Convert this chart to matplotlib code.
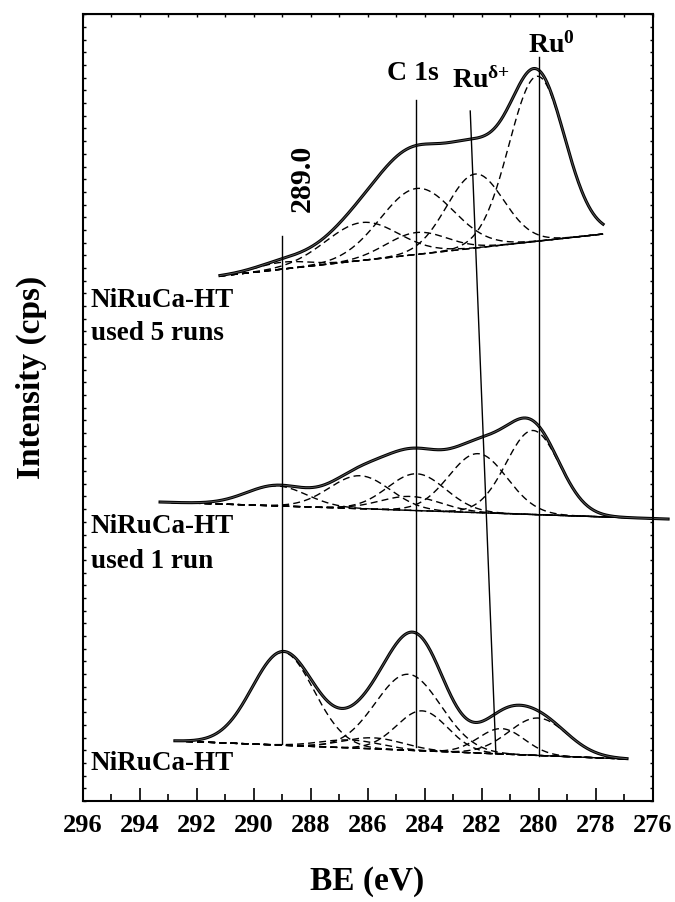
import matplotlib
matplotlib.use("Agg")
import matplotlib.pyplot as plt
import numpy as np
from matplotlib.ticker import MultipleLocator

plt.rcParams["font.family"] = ["Liberation Serif", "DejaVu Serif"]
plt.rcParams["font.weight"] = "bold"
plt.rcParams["mathtext.fontset"] = "custom"
plt.rcParams["mathtext.rm"] = "Liberation Serif:bold"
plt.rcParams["mathtext.bf"] = "Liberation Serif:bold"
plt.rcParams["mathtext.it"] = "Liberation Serif:bold:italic"

# fitted XPS components (BE in eV, intensity in arb. units)
# fresh NiRuCa-HT
bot_range = [292.76, 276.9]
bot_base = [4.73, 3.31]
bot_centers = [288.97, 286.6, 285.8, 284.58, 284.09, 281.3, 280.02]
bot_heights = [7.33, 0.63, 0.87, 5.99, 3.15, 2.0, 2.95]
bot_fwhm = [2.55, 2.5, 2.5, 2.7, 2.1, 1.9, 2.4]

# used 1 run
mid_range = [293.28, 275.46]
mid_base = [23.56, 22.22]
mid_centers = [289.2, 286.27, 284.5, 284.28, 282.13, 280.2]
mid_heights = [1.58, 2.6, 1.1, 2.9, 4.65, 6.62]
mid_fwhm = [2.5, 2.5, 2.5, 2.4, 2.4, 2.2]

# used 5 runs
top_range = [291.18, 277.74]
top_base = [41.37, 44.68]
top_centers = [289.0, 286.2, 284.3, 284.28, 282.23, 280.06]
top_heights = [0.55, 2.99, 1.73, 5.2, 5.83, 13.0]
top_fwhm = [2.2, 3.0, 2.5, 3.0, 2.35, 2.3]

# guide lines: BE at top/bottom end and their intensity extent
line_be_top = [289.0, 284.3, 282.4, 280.0]
line_be_bot = [289.0, 284.3, 281.5, 280.0]
line_y_top = [44.52, 55.24, 54.37, 58.63]
line_y_bot = [4.49, 4.26, 3.70, 3.55]

be_ticks = [296, 294, 292, 290, 288, 286, 284, 282, 280, 278, 276]

W, H = 675, 903
fig = plt.figure(figsize=(W / 100, H / 100), dpi=100)
ax = fig.add_axes([82.5 / W, 1 - 802 / H, 570.2 / W, 787 / H])


def px(x, y):
    return x / W, 1 - y / H


def draw_spectrum(rng, base, centers, heights, fwhm):
    x = np.linspace(rng[0], rng[1], 500)
    bl = base[0] + (base[1] - base[0]) * (x - rng[0]) / (rng[1] - rng[0])
    total = np.zeros_like(x)
    for c, h, f in zip(centers, heights, fwhm):
        s = f / 2.3548
        g = h * np.exp(-((x - c) ** 2) / (2 * s * s))
        total += g
        ax.plot(x, bl + g, color="black", lw=1.0, ls=(0, (5, 3)), clip_on=False)
    ax.plot(x, bl, color="black", lw=1.0, ls=(0, (5, 3)), clip_on=False)
    ax.plot(x, bl + total, color="black", lw=2.2, clip_on=False)
    ax.plot(x, bl + total, color="#555555", lw=0.7, clip_on=False)


draw_spectrum(bot_range, bot_base, bot_centers, bot_heights, bot_fwhm)
draw_spectrum(mid_range, mid_base, mid_centers, mid_heights, mid_fwhm)
draw_spectrum(top_range, top_base, top_centers, top_heights, top_fwhm)

for xt, xb, yt, yb in zip(line_be_top, line_be_bot, line_y_top, line_y_bot):
    ax.plot([xt, xb], [yt, yb], color="black", lw=1.0)

ax.set_xlim(296, 276)
ax.set_ylim(0, 787 / 12.69)
ax.set_xticks(be_ticks)
ax.set_xticklabels([str(t) for t in be_ticks])
ax.xaxis.set_minor_locator(MultipleLocator(1))
ax.yaxis.set_major_locator(MultipleLocator(1))
ax.set_yticklabels([])
ax.tick_params(axis="x", which="major", direction="in", length=9.5, width=1.2,
               labelsize=19, pad=9)
ax.tick_params(axis="x", which="minor", direction="in", length=5, width=1.2)
ax.tick_params(axis="y", which="major", direction="in", length=2.5, width=1.0,
               left=True, right=True)
for sp in ax.spines.values():
    sp.set_linewidth(1.5)

sec = ax.secondary_xaxis("top")
sec.xaxis.set_major_locator(MultipleLocator(1))
sec.tick_params(direction="in", length=2.5, width=1.0, labeltop=False)

ax.set_xlabel("BE (eV)", fontsize=24, fontweight="bold")
ax.xaxis.set_label_coords(0.5, -0.081)
ax.set_ylabel("Intensity (cps)", fontsize=24, fontweight="bold")
ax.yaxis.set_label_coords(-0.062, 0.54)

fig.text(*px(302, 178), "289.0", rotation=90, fontsize=21.5, ha="center", va="center")
fig.text(*px(413, 74), "C 1s", fontsize=20, ha="center", va="center")
fig.text(*px(452, 88), r"Ru$^{\mathrm{δ{+}}}$", fontsize=20, ha="left", va="baseline")
fig.text(*px(528, 53), r"Ru$^{\mathrm{0}}$", fontsize=20, ha="left", va="baseline")

fig.text(*px(91, 307), "NiRuCa-HT", fontsize=19.5, ha="left", va="baseline")
fig.text(*px(91, 340), "used 5 runs", fontsize=19.5, ha="left", va="baseline")
fig.text(*px(91, 533), "NiRuCa-HT", fontsize=19.5, ha="left", va="baseline")
fig.text(*px(91, 568), "used 1 run", fontsize=19.5, ha="left", va="baseline")
fig.text(*px(91, 770), "NiRuCa-HT", fontsize=19.5, ha="left", va="baseline")

fig.savefig("out.png", dpi=100)
